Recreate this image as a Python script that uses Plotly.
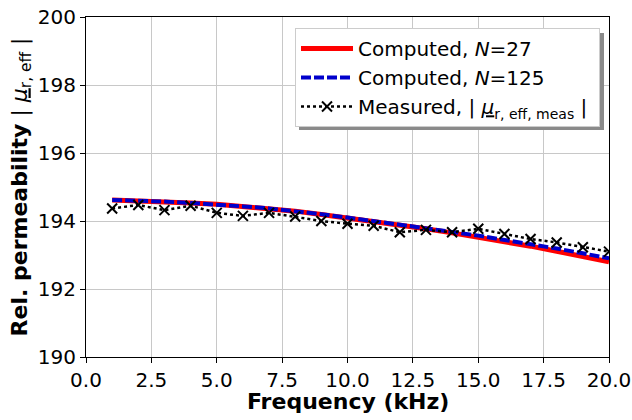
import plotly.graph_objects as go

freq = [1, 2, 3, 4, 5, 6, 7, 8, 9, 10, 11, 12, 13, 14, 15, 16, 17, 18, 19, 20]
mu_n27 = [194.62, 194.60, 194.57, 194.53, 194.49, 194.43, 194.37, 194.29, 194.19, 194.09,
          193.99, 193.88, 193.77, 193.65, 193.53, 193.40, 193.26, 193.11, 192.96, 192.80]
mu_n125 = [194.62, 194.60, 194.57, 194.53, 194.49, 194.43, 194.37, 194.29, 194.20, 194.10,
           194.00, 193.90, 193.79, 193.68, 193.57, 193.45, 193.32, 193.19, 193.05, 192.90]
mu_meas = [194.37, 194.47, 194.32, 194.45, 194.24, 194.15, 194.24, 194.13, 194.00, 193.92,
           193.86, 193.67, 193.74, 193.67, 193.77, 193.62, 193.47, 193.37, 193.23, 193.10]

x_ticks = [0, 2.5, 5, 7.5, 10, 12.5, 15, 17.5, 20]
y_ticks = [190, 192, 194, 196, 198, 200]

FONT = "DejaVu Sans"
L, R, T, B = 86, 609, 17, 357
W, H = 632, 420

fig = go.Figure()
fig.add_trace(go.Scatter(x=freq, y=mu_n27, mode="lines", name="Computed, <i>N</i>=27",
                         line=dict(color="#ff0000", width=5)))
fig.add_trace(go.Scatter(x=freq, y=mu_n125, mode="lines", name="Computed, <i>N</i>=125",
                         line=dict(color="#0000cc", width=4, dash="10px,3px")))
fig.add_trace(go.Scatter(x=freq, y=mu_meas, mode="lines+markers",
                         name="Measured, | <i><u>μ</u></i><sub>r, eff, meas</sub> |\u00a0",
                         line=dict(color="black", width=2.5, dash="dot"),
                         marker=dict(symbol="x-thin", size=10, line=dict(color="black", width=2))))

axis_common = dict(showline=True, linecolor="black", linewidth=1.2, mirror=True,
                   ticks="outside", ticklen=5, tickcolor="black", automargin=False,
                   showgrid=True, gridcolor="#c8c8c8", gridwidth=1, zeroline=False,
                   tickfont=dict(family=FONT, size=20, color="black"))

fig.update_xaxes(range=[0, 20], tickvals=x_ticks, ticktext=[f"{v:.1f}" for v in x_ticks],
                 **axis_common)
fig.update_yaxes(range=[190, 200], tickvals=y_ticks,
                 title=dict(text="<b>Rel. permeability</b> | <i><u>μ</u></i><sub>r, eff</sub> |",
                            font=dict(family=FONT, size=22, color="black"), standoff=4),
                 **axis_common)

# x-axis title as annotation for precise placement
fig.add_annotation(text="<b>Frequency (kHz)</b>", xref="paper", yref="paper",
                   x=0.5, y=(B - 401) / (B - T), xanchor="center", yanchor="middle",
                   showarrow=False, font=dict(family=FONT, size=22, color="black"))

# legend shadow (offset box behind the legend)
fig.add_shape(type="rect", xref="paper", yref="paper",
              x0=(299 - L) / (R - L), x1=(604 - L) / (R - L),
              y0=(B - 130) / (B - T), y1=(B - 33) / (B - T),
              fillcolor="#8a8a8a", line=dict(width=0), layer="above")

fig.update_layout(
    width=W, height=H,
    margin=dict(l=L, r=W - R, t=T, b=H - B),
    plot_bgcolor="white", paper_bgcolor="white",
    font=dict(family=FONT, size=20, color="black"),
    legend=dict(x=(600 - L) / (R - L), y=(B - 28) / (B - T), xanchor="right", yanchor="top",
                bgcolor="white", bordercolor="#cccccc", borderwidth=1,
                font=dict(family=FONT, size=20, color="black"),
                itemwidth=52, tracegroupgap=0),
)

fig.write_html("out.html")
